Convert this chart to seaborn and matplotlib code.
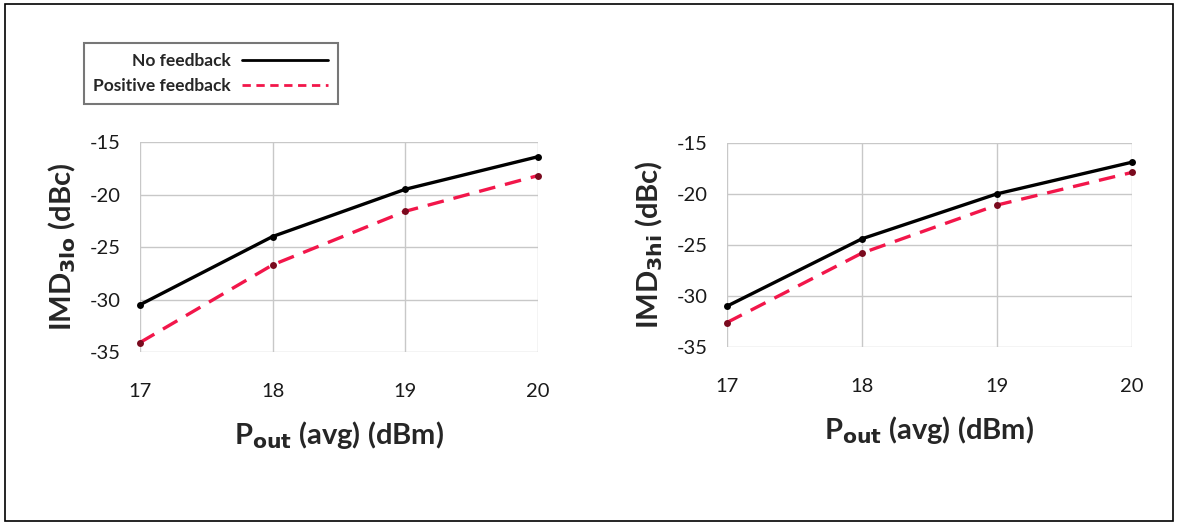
import pandas as pd
import matplotlib.pyplot as plt
import seaborn as sns
from matplotlib.lines import Line2D
from matplotlib.patches import Rectangle

sns.set_style("white")
plt.rcParams['font.family'] = ['Lato', 'DejaVu Sans']
plt.rcParams['axes.unicode_minus'] = False

# data
pout = [17, 18, 19, 20]
imd3lo_nofb = [-30.5, -24.0, -19.5, -16.4]
imd3lo_posfb = [-34.1, -26.7, -21.6, -18.2]
imd3hi_nofb = [-31.0, -24.4, -20.0, -16.9]
imd3hi_posfb = [-32.6, -25.8, -21.1, -17.9]
yticks = [-35, -30, -25, -20, -15]

red = "#f2164a"

fig = plt.figure(figsize=(11.79, 5.25), dpi=100)
ax1 = fig.add_axes([0.1187, 0.3295, 0.3376, 0.40])
ax2 = fig.add_axes([0.6166, 0.339, 0.3435, 0.389])

panels = [
    (ax1, imd3lo_nofb, imd3lo_posfb, r"IMD$_{\mathbf{3lo}}$ (dBc)"),
    (ax2, imd3hi_nofb, imd3hi_posfb, r"IMD$_{\mathbf{3hi}}$ (dBc)"),
]

for ax, nofb, posfb, ylab in panels:
    sns.lineplot(x=pout, y=nofb, ax=ax, color="black", linewidth=2.4,
                 marker="o", markersize=5, markeredgewidth=0, clip_on=False)
    sns.lineplot(x=pout, y=posfb, ax=ax, color=red, linewidth=2.4,
                 linestyle=(0, (5, 3)), marker="o", markersize=5,
                 markerfacecolor="#7a0a1e", markeredgewidth=0, clip_on=False)
    ax.set_xlim(17, 20)
    ax.set_ylim(-35, -15)
    ax.set_xticks(pout)
    ax.set_yticks(yticks)
    ax.set_yticklabels([str(t) for t in yticks])
    ax.grid(True, color="#c8c8c8", linewidth=1)
    for s in ax.spines.values():
        s.set_visible(False)
    ax.tick_params(axis="x", labelsize=14.5, pad=22, length=0, colors="#1a1a1a")
    ax.tick_params(axis="y", labelsize=14.5, pad=14, length=0, colors="#1a1a1a")
    ax.set_xlabel(r"P$_{\mathbf{out}}$ (avg) (dBm)", fontsize=21,
                  fontweight="bold", labelpad=14)
    ax.set_ylabel(ylab, fontsize=21, fontweight="bold", labelpad=8)

# legend in the top-left corner of the figure
handles = [
    Line2D([], [], color="black", linewidth=2),
    Line2D([], [], color=red, linewidth=2, linestyle=(0, (3, 2))),
]
leg = fig.legend(handles, ["No feedback", "Positive feedback"],
                 loc="upper left", bbox_to_anchor=(0.0712, 0.918),
                 borderaxespad=0, markerfirst=False, frameon=True,
                 fancybox=False, prop={"weight": "bold", "size": 12.5},
                 handlelength=5, borderpad=0.55, labelspacing=0.55,
                 handletextpad=0.6)
leg.get_frame().set_edgecolor("#555555")
leg.get_frame().set_linewidth(1.5)
leg.get_texts()[0].set_ha("center")

# outer border
fig.patches.append(Rectangle((0.004, 0.008), 0.991, 0.984,
                             transform=fig.transFigure, fill=False,
                             edgecolor="black", linewidth=1.2))

fig.savefig("out.png", dpi=100)
